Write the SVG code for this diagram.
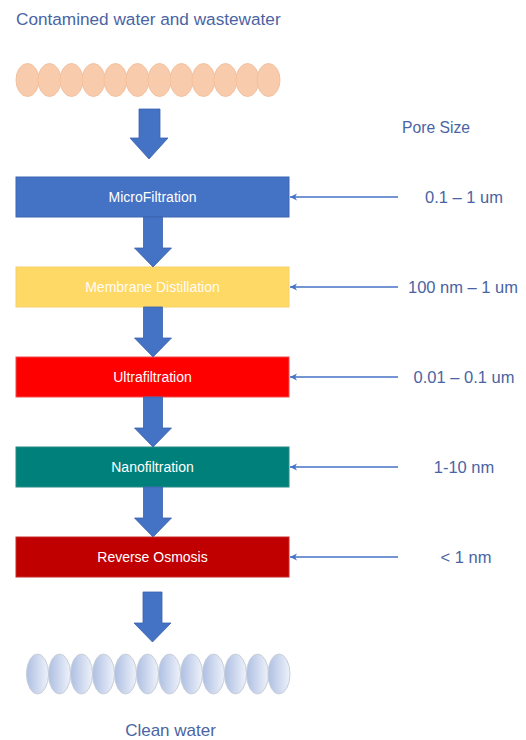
<svg xmlns="http://www.w3.org/2000/svg" width="526" height="740" viewBox="0 0 526 740">
<defs>
<linearGradient id="blueGrad" x1="0" y1="0" x2="1" y2="0">
<stop offset="0" stop-color="#aebfe3"/>
<stop offset="1" stop-color="#eef2fa"/>
</linearGradient>
<marker id="thinHead" markerWidth="10" markerHeight="10" refX="8" refY="5" orient="auto" markerUnits="userSpaceOnUse">
<path d="M1,1.5 L8,5 L1,8.5 L3,5 Z" fill="#4472c4"/>
</marker>
<symbol id="bigArrow" overflow="visible">
<path d="M-9.5,0 H9.5 V31 H18.5 L0,50 L-18.5,31 H-9.5 Z"/>
</symbol>
</defs>
<style>
.lbl{font-family:"Liberation Sans",Arial,sans-serif;fill:#4a64a3}
.box{stroke-width:1}
.boxtxt{font-family:"Liberation Sans",Arial,sans-serif;font-size:14px;fill:#ffffff;text-anchor:middle}
.pore{font-family:"Liberation Sans",Arial,sans-serif;font-size:16.5px;fill:#4a64a3;text-anchor:middle}
.ptr{stroke:#4472c4;stroke-width:1.5;fill:none;marker-end:url(#thinHead)}
.big{fill:#4472c4;stroke:#3a62ad;stroke-width:0.8}
.dirty{fill:#f8cbad;stroke:#f2c2a0;stroke-width:1}
.clean{fill:url(#blueGrad);stroke:#c9cfd9;stroke-width:1}
</style>

<g id="title">
<text class="lbl" x="16" y="25" font-size="17.2">Contamined water and wastewater</text>
</g>

<g id="dirty-water">
<ellipse class="dirty" cx="27.5" cy="80" rx="11.5" ry="16.5"/>
<ellipse class="dirty" cx="49.5" cy="80" rx="11.5" ry="16.5"/>
<ellipse class="dirty" cx="71.5" cy="80" rx="11.5" ry="16.5"/>
<ellipse class="dirty" cx="93.5" cy="80" rx="11.5" ry="16.5"/>
<ellipse class="dirty" cx="115.5" cy="80" rx="11.5" ry="16.5"/>
<ellipse class="dirty" cx="137.5" cy="80" rx="11.5" ry="16.5"/>
<ellipse class="dirty" cx="159.5" cy="80" rx="11.5" ry="16.5"/>
<ellipse class="dirty" cx="181.5" cy="80" rx="11.5" ry="16.5"/>
<ellipse class="dirty" cx="203.5" cy="80" rx="11.5" ry="16.5"/>
<ellipse class="dirty" cx="225.5" cy="80" rx="11.5" ry="16.5"/>
<ellipse class="dirty" cx="247.5" cy="80" rx="11.5" ry="16.5"/>
<ellipse class="dirty" cx="268.5" cy="80" rx="11.5" ry="16.5"/>
</g>

<g id="pore-size-title">
<text class="lbl" x="402" y="133" font-size="15.7">Pore Size</text>
</g>

<g id="microfiltration">
<rect class="box" x="16" y="177" width="273" height="40" fill="#4472c4" stroke="#3d67b3"/>
<text class="boxtxt" x="152.5" y="202">MicroFiltration</text>
</g>
<g id="membrane-distillation">
<rect class="box" x="16" y="267" width="273" height="40" fill="#ffd966" stroke="#f5d06a"/>
<text class="boxtxt" x="152.5" y="292" fill-opacity="0.95">Membrane Distillation</text>
</g>
<g id="ultrafiltration">
<rect class="box" x="16" y="357" width="273" height="40" fill="#ff0000" stroke="#f04a4a"/>
<text class="boxtxt" x="152.5" y="382">Ultrafiltration</text>
</g>
<g id="nanofiltration">
<rect class="box" x="16" y="447" width="273" height="40" fill="#00807a" stroke="#2a8a85"/>
<text class="boxtxt" x="152.5" y="472">Nanofiltration</text>
</g>
<g id="reverse-osmosis">
<rect class="box" x="16" y="537" width="273" height="40" fill="#c00000" stroke="#c82a2a"/>
<text class="boxtxt" x="152.5" y="562">Reverse Osmosis</text>
</g>

<g id="pore-labels">
<text class="pore" x="464" y="203">0.1 – 1 um</text>
<text class="pore" x="463" y="293">100 nm – 1 um</text>
<text class="pore" x="464" y="383">0.01 – 0.1 um</text>
<text class="pore" x="464" y="473">1-10 nm</text>
<text class="pore" x="466" y="563">&lt; 1 nm</text>
</g>

<g id="clean-water">
<ellipse class="clean" cx="37.5" cy="674" rx="11" ry="20"/>
<ellipse class="clean" cx="59.5" cy="674" rx="11" ry="20"/>
<ellipse class="clean" cx="81.5" cy="674" rx="11" ry="20"/>
<ellipse class="clean" cx="103.5" cy="674" rx="11" ry="20"/>
<ellipse class="clean" cx="125.5" cy="674" rx="11" ry="20"/>
<ellipse class="clean" cx="147.5" cy="674" rx="11" ry="20"/>
<ellipse class="clean" cx="169.5" cy="674" rx="11" ry="20"/>
<ellipse class="clean" cx="191.5" cy="674" rx="11" ry="20"/>
<ellipse class="clean" cx="213.5" cy="674" rx="11" ry="20"/>
<ellipse class="clean" cx="235.5" cy="674" rx="11" ry="20"/>
<ellipse class="clean" cx="257.5" cy="674" rx="11" ry="20"/>
<ellipse class="clean" cx="279" cy="674" rx="11" ry="20"/>
</g>

<g id="clean-title">
<text class="lbl" x="170.5" y="736" font-size="17" text-anchor="middle">Clean water</text>
</g>

<g id="connectors">
<path class="big" d="M139,109 H160 V138 H168 L149,159 L130,138 H139 Z"/>
<use class="big" href="#bigArrow" x="153" y="217"/>
<use class="big" href="#bigArrow" x="153" y="307"/>
<use class="big" href="#bigArrow" x="153" y="397"/>
<use class="big" href="#bigArrow" x="153" y="487"/>
<path class="big" d="M143,592 H162 V623 H171 L152.5,642 L134,623 H143 Z"/>
<line class="ptr" x1="398" y1="197" x2="290" y2="197"/>
<line class="ptr" x1="398" y1="287" x2="290" y2="287"/>
<line class="ptr" x1="398" y1="377" x2="290" y2="377"/>
<line class="ptr" x1="398" y1="467" x2="290" y2="467"/>
<line class="ptr" x1="398" y1="557" x2="290" y2="557"/>
</g>
</svg>
